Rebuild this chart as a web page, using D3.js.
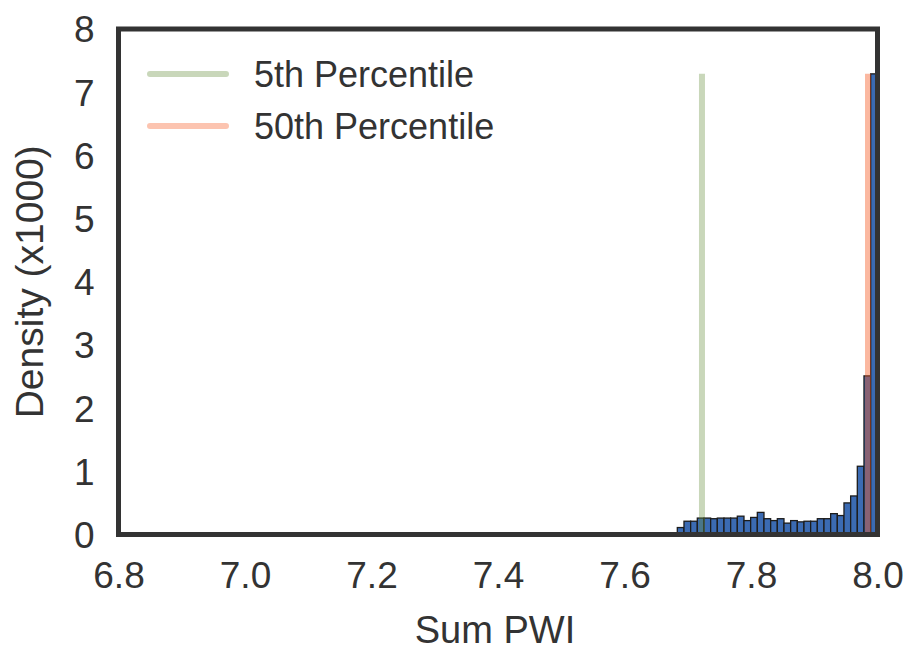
<!DOCTYPE html>
<html>
<head>
<meta charset="utf-8">
<script src="https://cdn.jsdelivr.net/npm/d3@7/dist/d3.min.js"></script>
<style>
  html, body { margin: 0; padding: 0; background: #fff; }
  svg { display: block; }
  text { font-family: "Liberation Sans", Arial, sans-serif; fill: #333; }
</style>
</head>
<body>
<svg id="chart" width="908" height="652"></svg>
<script>
// ---- data ----
const binStart = 7.6835;
const binWidth = 0.01054;
const densities = [0.11, 0.21, 0.21, 0.26, 0.26, 0.25, 0.26, 0.26, 0.26, 0.29,
                   0.22, 0.27, 0.35, 0.25, 0.22, 0.25, 0.18, 0.22, 0.20, 0.21,
                   0.21, 0.25, 0.25, 0.33, 0.30, 0.50, 0.61, 1.08, 2.51, 7.29];
const percentileNames = ["5th Percentile", "50th Percentile"];
const percentileValues = [7.7225, 7.985];
const percentileColors = ["#638b38", "#f6551c"];
const xTicks = [6.8, 7.0, 7.2, 7.4, 7.6, 7.8, 8.0];
const yTicks = [0, 1, 2, 3, 4, 5, 6, 7, 8];

// ---- layout ----
const svg = d3.select("#chart");
const L = 118.5, R = 877.5, T = 29, B = 534.5;
const x = d3.scaleLinear().domain([6.8, 8.0]).range([L, R]);
const y = d3.scaleLinear().domain([0, 8]).range([B, T]);
const FONT = "'Liberation Sans', Arial, sans-serif";

const bins = densities.map((d, i) => ({x0: binStart + i * binWidth, x1: binStart + (i + 1) * binWidth, v: d}));
const maxD = d3.max(densities);

svg.append("clipPath").attr("id", "clip")
  .append("rect").attr("x", L).attr("y", T).attr("width", R - L).attr("height", B - T);

const g = svg.append("g").attr("clip-path", "url(#clip)");

g.selectAll("rect.bar").data(bins).enter().append("rect")
  .attr("class", "bar")
  .attr("x", d => x(d.x0))
  .attr("y", d => y(d.v))
  .attr("width", d => x(d.x1) - x(d.x0))
  .attr("height", d => y(0) - y(d.v))
  .attr("fill", "#3b6bb3")
  .attr("stroke", "#1c1c1c")
  .attr("stroke-width", 1.3);

g.selectAll("line.pct").data(percentileValues).enter().append("line")
  .attr("class", "pct")
  .attr("x1", d => x(d)).attr("x2", d => x(d))
  .attr("y1", y(0)).attr("y2", y(maxD))
  .attr("stroke", (d, i) => percentileColors[i])
  .attr("stroke-opacity", (d, i) => i === 1 ? 0.42 : 0.35)
  .attr("stroke-width", 6);

// frame
svg.append("rect")
  .attr("x", L).attr("y", T).attr("width", R - L).attr("height", B - T)
  .attr("fill", "none").attr("stroke", "#333").attr("stroke-width", 5);

// x axis
const xAxis = d3.axisBottom(x).tickValues(xTicks).tickFormat(d3.format(".1f")).tickSize(0).tickPadding(0);
const xg = svg.append("g").attr("transform", `translate(0,${B})`).call(xAxis);
xg.select(".domain").remove();
xg.selectAll("text").attr("y", 53).attr("dy", null)
  .style("font-size", "37px").style("fill", "#333").style("font-family", FONT);

// y axis
const yAxis = d3.axisLeft(y).tickValues(yTicks).tickFormat(d3.format("d")).tickSize(0).tickPadding(0);
const yg = svg.append("g").attr("transform", `translate(${L},0)`).call(yAxis);
yg.select(".domain").remove();
yg.selectAll("text").attr("x", -24).attr("dy", "0.35em")
  .style("font-size", "37px").style("fill", "#333").style("font-family", FONT);

// axis labels
svg.append("text").attr("x", 495).attr("y", 643)
  .attr("text-anchor", "middle").style("font-size", "38px").text("Sum PWI");
svg.append("text").attr("transform", `translate(43,${(T + B) / 2}) rotate(-90)`)
  .attr("text-anchor", "middle").style("font-size", "39px").text("Density (x1000)");

// legend
const leg = svg.append("g");
percentileNames.forEach((name, i) => {
  const yy = 74 + i * 52;
  leg.append("line").attr("x1", 150).attr("x2", 226).attr("y1", yy).attr("y2", yy)
    .attr("stroke", percentileColors[i]).attr("stroke-opacity", 0.35)
    .attr("stroke-width", 6).attr("stroke-linecap", "round");
  leg.append("text").attr("x", 254).attr("y", yy).attr("dy", "0.35em")
    .style("font-size", "36px").text(name);
});
</script>
</body>
</html>
